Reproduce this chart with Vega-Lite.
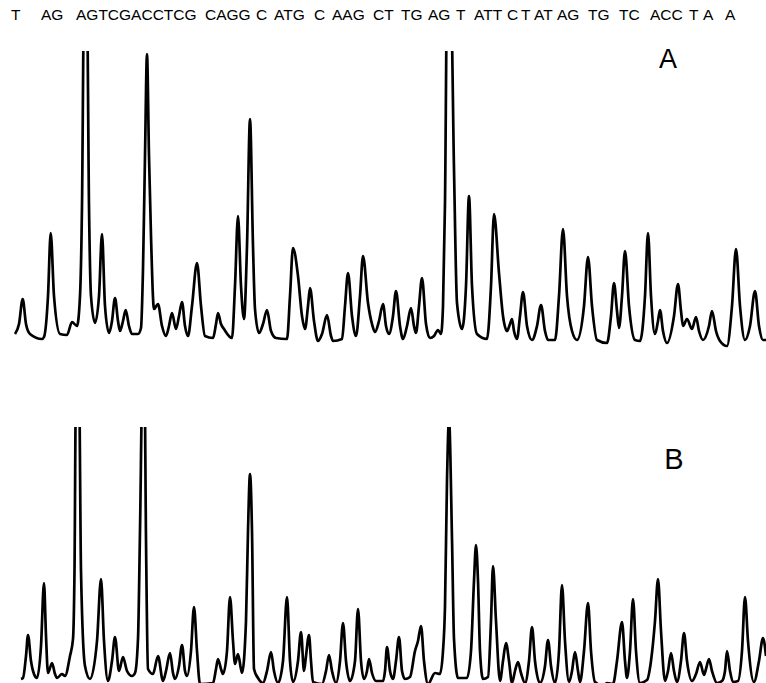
{
  "$schema": "https://vega.github.io/schema/vega-lite/v6.json",
  "padding": 0,
  "spacing": 15,
  "background": "white",
  "config": {"view": {"stroke": null}, "font": "Liberation Sans"},
  "datasets": {
    "seq": [
      {"x": 11, "s": "T"}, {"x": 41, "s": "AG"}, {"x": 76, "s": "AGTCGACCTCG"}, {"x": 205, "s": "CAGG"},
      {"x": 256, "s": "C"}, {"x": 274, "s": "ATG"}, {"x": 314, "s": "C"}, {"x": 332, "s": "AAG"},
      {"x": 373, "s": "CT"}, {"x": 401, "s": "TG"}, {"x": 428, "s": "AG"}, {"x": 456, "s": "T"},
      {"x": 474, "s": "ATT"}, {"x": 507, "s": "C"}, {"x": 521, "s": "T"}, {"x": 534, "s": "AT"},
      {"x": 557, "s": "AG"}, {"x": 588, "s": "TG"}, {"x": 619, "s": "TC"}, {"x": 650, "s": "ACC"},
      {"x": 689, "s": "T"}, {"x": 703, "s": "A"}, {"x": 725, "s": "A"}
    ],
    "traceA": [
      {"t":15,"v":2},{"t":19,"v":12},{"t":22.7,"v":37},{"t":26,"v":12},{"t":30,"v":2},{"t":42,"v":-3},{"t":44,"v":-1},{"t":48,"v":40},{"t":50.7,"v":103},{"t":54,"v":40},{"t":60,"v":2},{"t":67,"v":1},{"t":72,"v":14},{"t":77,"v":10},{"t":80,"v":40},{"t":82,"v":130},{"t":84,"v":330},{"t":87,"v":330},{"t":89,"v":130},{"t":91,"v":40},{"t":95,"v":13},{"t":99,"v":40},{"t":102,"v":102},{"t":105,"v":30},{"t":109,"v":3},{"t":112,"v":15},{"t":115,"v":38},{"t":118,"v":15},{"t":120,"v":5},{"t":123,"v":15},{"t":125.7,"v":26},{"t":129,"v":10},{"t":132,"v":2},{"t":138,"v":2},{"t":141,"v":8},{"t":143,"v":67},{"t":145,"v":180},{"t":147,"v":282},{"t":149,"v":180},{"t":151,"v":100},{"t":154,"v":27},{"t":158,"v":32},{"t":162,"v":10},{"t":166,"v":0},{"t":169,"v":10},{"t":172,"v":23},{"t":176,"v":7},{"t":179,"v":20},{"t":182,"v":34},{"t":185,"v":10},{"t":188,"v":0},{"t":192,"v":30},{"t":197,"v":73},{"t":201,"v":30},{"t":205,"v":0},{"t":213,"v":-2},{"t":216,"v":12},{"t":218,"v":23},{"t":221,"v":12},{"t":224,"v":7},{"t":232,"v":-2},{"t":235,"v":50},{"t":238,"v":120},{"t":241,"v":50},{"t":244,"v":17},{"t":247,"v":90},{"t":250,"v":217},{"t":253,"v":90},{"t":255,"v":27},{"t":259,"v":3},{"t":263,"v":12},{"t":267,"v":26},{"t":271,"v":5},{"t":276,"v":-2},{"t":287,"v":-3},{"t":290,"v":40},{"t":293,"v":88},{"t":298,"v":60},{"t":302,"v":20},{"t":305,"v":7},{"t":308,"v":30},{"t":310,"v":48},{"t":314,"v":15},{"t":318,"v":-5},{"t":322,"v":2},{"t":327,"v":21},{"t":331,"v":0},{"t":333,"v":-5},{"t":342,"v":-3},{"t":345,"v":30},{"t":348,"v":63},{"t":352,"v":20},{"t":356,"v":0},{"t":360,"v":40},{"t":363,"v":80},{"t":368,"v":33},{"t":372,"v":12},{"t":375,"v":4},{"t":379,"v":15},{"t":383,"v":32},{"t":386,"v":10},{"t":389,"v":2},{"t":393,"v":20},{"t":396,"v":45},{"t":400,"v":10},{"t":403,"v":-3},{"t":407,"v":10},{"t":411,"v":28},{"t":414,"v":10},{"t":416,"v":3},{"t":419,"v":30},{"t":422,"v":58},{"t":426,"v":12},{"t":430,"v":-2},{"t":434,"v":0},{"t":438,"v":6},{"t":441,"v":2},{"t":443,"v":30},{"t":445,"v":133},{"t":447,"v":330},{"t":451,"v":330},{"t":454,"v":167},{"t":457,"v":33},{"t":462,"v":7},{"t":466,"v":50},{"t":469,"v":140},{"t":472,"v":50},{"t":477,"v":2},{"t":487,"v":-3},{"t":491,"v":50},{"t":494,"v":122},{"t":499,"v":63},{"t":503,"v":20},{"t":507,"v":5},{"t":510,"v":12},{"t":512,"v":17},{"t":514,"v":5},{"t":517,"v":-3},{"t":520,"v":20},{"t":523,"v":44},{"t":527,"v":10},{"t":532,"v":-4},{"t":537,"v":10},{"t":541,"v":31},{"t":545,"v":5},{"t":548,"v":-4},{"t":555,"v":-4},{"t":559,"v":40},{"t":563,"v":107},{"t":567,"v":40},{"t":572,"v":5},{"t":577,"v":-4},{"t":584,"v":30},{"t":588,"v":79},{"t":592,"v":30},{"t":597,"v":-4},{"t":607,"v":-7},{"t":611,"v":20},{"t":614,"v":53},{"t":617,"v":25},{"t":619,"v":8},{"t":622,"v":40},{"t":625,"v":85},{"t":629,"v":30},{"t":635,"v":-4},{"t":640,"v":-5},{"t":645,"v":40},{"t":648,"v":103},{"t":651,"v":40},{"t":655,"v":2},{"t":658,"v":15},{"t":660,"v":26},{"t":663,"v":5},{"t":667,"v":-7},{"t":674,"v":20},{"t":678,"v":52},{"t":681,"v":25},{"t":683,"v":10},{"t":687,"v":17},{"t":692,"v":7},{"t":696,"v":19},{"t":699,"v":5},{"t":703,"v":-4},{"t":709,"v":10},{"t":712,"v":25},{"t":716,"v":5},{"t":720,"v":-5},{"t":727,"v":-10},{"t":732,"v":30},{"t":736,"v":87},{"t":740,"v":30},{"t":745,"v":-4},{"t":750,"v":10},{"t":755,"v":45},{"t":759,"v":10},{"t":763,"v":-4},{"t":766,"v":-4}
    ],
    "traceB": [
      {"t":21,"v":2},{"t":23,"v":3},{"t":26,"v":25},{"t":28,"v":46},{"t":31,"v":20},{"t":34,"v":7},{"t":37,"v":3},{"t":41,"v":35},{"t":44,"v":98},{"t":46,"v":45},{"t":48,"v":8},{"t":52,"v":18},{"t":55,"v":7},{"t":57,"v":3},{"t":62,"v":7},{"t":65,"v":5},{"t":70,"v":25},{"t":73,"v":42},{"t":74.5,"v":110},{"t":76,"v":300},{"t":79,"v":300},{"t":81,"v":110},{"t":85,"v":15},{"t":90,"v":2},{"t":97,"v":40},{"t":101,"v":102},{"t":104,"v":40},{"t":108,"v":0},{"t":112,"v":20},{"t":115,"v":44},{"t":119,"v":10},{"t":123,"v":24},{"t":127,"v":10},{"t":132,"v":5},{"t":135,"v":8},{"t":138,"v":42},{"t":140,"v":150},{"t":142.5,"v":300},{"t":144.5,"v":300},{"t":146,"v":142},{"t":148,"v":12},{"t":153,"v":7},{"t":158,"v":25},{"t":163,"v":0},{"t":166,"v":10},{"t":170,"v":28},{"t":173,"v":8},{"t":175,"v":2},{"t":179,"v":15},{"t":182,"v":36},{"t":185,"v":10},{"t":187,"v":5},{"t":191,"v":30},{"t":194,"v":74},{"t":197,"v":30},{"t":200,"v":-3},{"t":213,"v":-2},{"t":216,"v":12},{"t":218,"v":22},{"t":221,"v":12},{"t":223,"v":7},{"t":227,"v":30},{"t":230,"v":84},{"t":233,"v":40},{"t":235,"v":17},{"t":238,"v":27},{"t":242,"v":8},{"t":246,"v":60},{"t":248,"v":150},{"t":250,"v":207},{"t":252,"v":150},{"t":254,"v":12},{"t":258,"v":3},{"t":263,"v":-2},{"t":267,"v":10},{"t":271,"v":29},{"t":274,"v":10},{"t":278,"v":-2},{"t":283,"v":20},{"t":287,"v":84},{"t":290,"v":20},{"t":293,"v":-1},{"t":298,"v":20},{"t":301,"v":49},{"t":304,"v":10},{"t":306,"v":25},{"t":309,"v":46},{"t":311,"v":20},{"t":313,"v":-1},{"t":322,"v":-3},{"t":326,"v":10},{"t":329,"v":26},{"t":332,"v":10},{"t":336,"v":-2},{"t":340,"v":20},{"t":343,"v":58},{"t":346,"v":20},{"t":350,"v":0},{"t":355,"v":20},{"t":358,"v":72},{"t":361,"v":20},{"t":364,"v":2},{"t":367,"v":10},{"t":369,"v":22},{"t":372,"v":8},{"t":376,"v":0},{"t":383,"v":0},{"t":385,"v":10},{"t":387,"v":34},{"t":390,"v":10},{"t":393,"v":2},{"t":396,"v":20},{"t":399,"v":44},{"t":402,"v":10},{"t":405,"v":2},{"t":410,"v":4},{"t":415,"v":30},{"t":418,"v":40},{"t":421,"v":55},{"t":424,"v":20},{"t":428,"v":-3},{"t":435,"v":8},{"t":440,"v":7},{"t":443,"v":30},{"t":445,"v":75},{"t":447,"v":200},{"t":449,"v":262},{"t":452,"v":142},{"t":454,"v":42},{"t":458,"v":3},{"t":467,"v":3},{"t":471,"v":30},{"t":474,"v":100},{"t":476,"v":136},{"t":478,"v":100},{"t":480,"v":30},{"t":483,"v":2},{"t":488,"v":4},{"t":491,"v":60},{"t":493,"v":115},{"t":496,"v":60},{"t":500,"v":0},{"t":503,"v":20},{"t":506,"v":38},{"t":509,"v":20},{"t":512,"v":-2},{"t":515,"v":10},{"t":518,"v":19},{"t":521,"v":8},{"t":525,"v":-2},{"t":529,"v":20},{"t":532,"v":54},{"t":535,"v":20},{"t":540,"v":-2},{"t":545,"v":15},{"t":548,"v":41},{"t":551,"v":15},{"t":555,"v":-2},{"t":559,"v":30},{"t":562,"v":96},{"t":565,"v":40},{"t":569,"v":-1},{"t":572,"v":10},{"t":575,"v":29},{"t":578,"v":10},{"t":580,"v":-1},{"t":584,"v":30},{"t":588,"v":78},{"t":591,"v":30},{"t":595,"v":-1},{"t":603,"v":-5},{"t":607,"v":-2},{"t":613,"v":-3},{"t":617,"v":20},{"t":622,"v":59},{"t":625,"v":20},{"t":627,"v":3},{"t":630,"v":30},{"t":633,"v":82},{"t":636,"v":30},{"t":640,"v":-2},{"t":647,"v":1},{"t":651,"v":20},{"t":655,"v":60},{"t":658,"v":102},{"t":661,"v":50},{"t":665,"v":0},{"t":668,"v":10},{"t":671,"v":28},{"t":674,"v":10},{"t":677,"v":-1},{"t":681,"v":20},{"t":684,"v":48},{"t":687,"v":20},{"t":692,"v":0},{"t":696,"v":7},{"t":700,"v":19},{"t":704,"v":6},{"t":706,"v":12},{"t":709,"v":22},{"t":712,"v":10},{"t":717,"v":-2},{"t":722,"v":0},{"t":725,"v":10},{"t":727,"v":30},{"t":730,"v":10},{"t":733,"v":-1},{"t":738,"v":0},{"t":742,"v":30},{"t":745,"v":84},{"t":748,"v":40},{"t":754,"v":-1},{"t":759,"v":20},{"t":763,"v":43},{"t":766,"v":25}
    ],
    "labA": [{"t": 668, "v": 268, "s": "A"}],
    "labB": [{"t": 674, "v": 212, "s": "B"}]
  },
  "vconcat": [
    {
      "width": 766, "height": 30,
      "data": {"name": "seq"},
      "mark": {"type": "text", "align": "left", "baseline": "middle", "fontSize": 15.5, "font": "Liberation Sans", "color": "#000"},
      "encoding": {
        "x": {"field": "x", "type": "quantitative", "scale": {"domain": [0, 766], "nice": false, "zero": false}, "axis": null},
        "text": {"field": "s"}
      }
    },
    {
      "width": 766, "height": 361,
      "layer": [
        {
          "data": {"name": "traceA"},
          "mark": {"type": "line", "interpolate": "monotone", "clip": true, "color": "#000", "strokeWidth": 2.7, "strokeJoin": "round"},
          "encoding": {
            "x": {"field": "t", "type": "quantitative", "scale": {"domain": [0, 766], "nice": false, "zero": false}, "axis": null},
            "y": {"field": "v", "type": "quantitative", "scale": {"domain": [-76, 285], "nice": false, "zero": false}, "axis": null}
          }
        },
        {
          "data": {"name": "labA"},
          "mark": {"type": "text", "align": "center", "baseline": "alphabetic", "fontSize": 27, "font": "Liberation Sans", "color": "#000"},
          "encoding": {
            "x": {"field": "t", "type": "quantitative"},
            "y": {"field": "v", "type": "quantitative"},
            "text": {"field": "s"}
          }
        }
      ]
    },
    {
      "width": 766, "height": 262,
      "layer": [
        {
          "data": {"name": "traceB"},
          "mark": {"type": "line", "interpolate": "monotone", "clip": true, "color": "#000", "strokeWidth": 2.7, "strokeJoin": "round"},
          "encoding": {
            "x": {"field": "t", "type": "quantitative", "scale": {"domain": [0, 766], "nice": false, "zero": false}, "axis": null},
            "y": {"field": "v", "type": "quantitative", "scale": {"domain": [-8, 254], "nice": false, "zero": false}, "axis": null}
          }
        },
        {
          "data": {"name": "labB"},
          "mark": {"type": "text", "align": "center", "baseline": "alphabetic", "fontSize": 29, "font": "Liberation Sans", "color": "#000"},
          "encoding": {
            "x": {"field": "t", "type": "quantitative"},
            "y": {"field": "v", "type": "quantitative"},
            "text": {"field": "s"}
          }
        }
      ]
    }
  ]
}
